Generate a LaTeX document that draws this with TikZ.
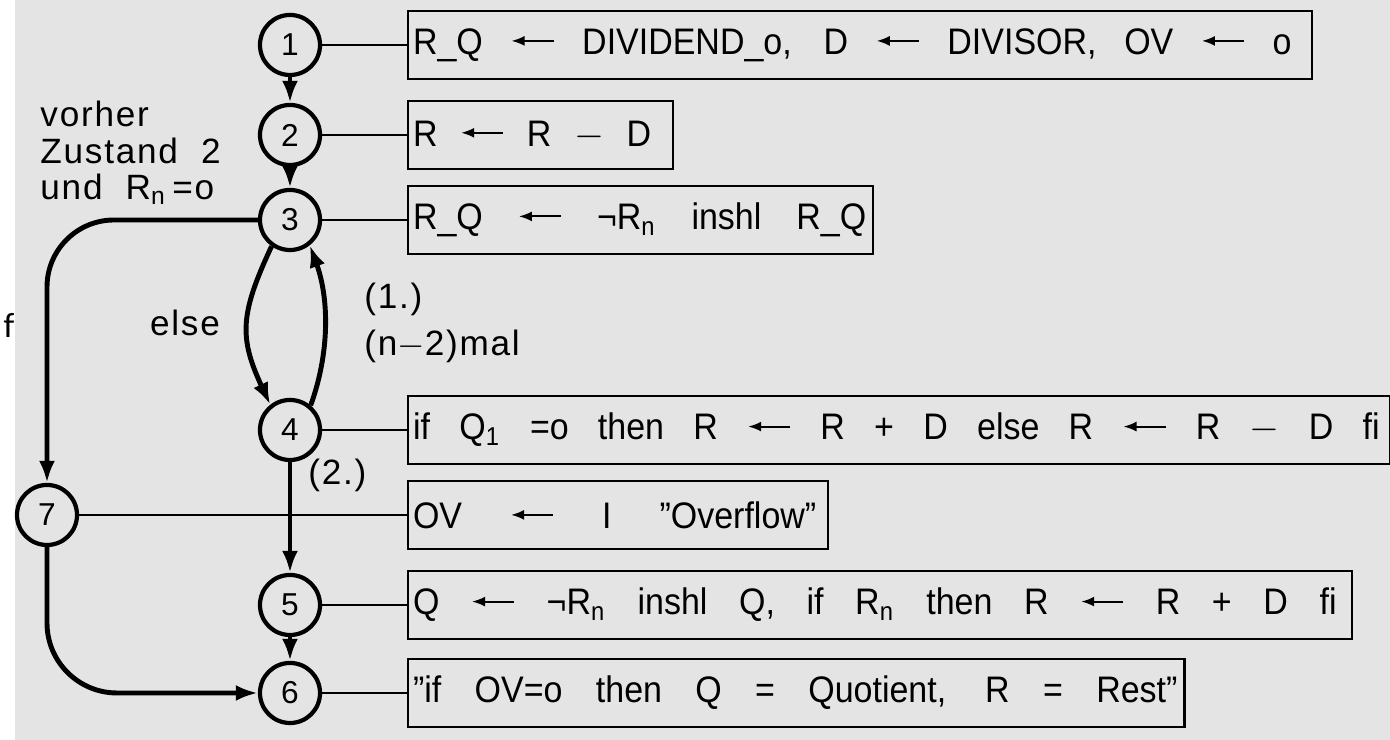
\documentclass[tikz,border=0pt]{standalone}
\usepackage{fontspec}
\setmainfont{Liberation Sans}[LetterSpace=5]
\newfontfamily\boxfont{Liberation Sans}[FakeStretch=0.92]
\newfontfamily\strayfont{Carlito}
\usetikzlibrary{arrows.meta}
\definecolor{paper}{HTML}{E4E4E4}
\newcommand{\spreadtext}[2]{\hbox to #1{\spaceskip=0.3em plus 1fill\relax #2}}
\newcommand{\getsarrow}{\tikz[baseline=-0.36em]\draw[-{Latex[length=1.3mm,width=1mm]}, line width=0.55pt] (0.42cm,0cm) -- (0cm,0cm);}
\tikzset{
  state/.style={circle, draw, line width=1.2pt, minimum size=0.6cm, inner sep=0pt, font=\fontsize{9}{10}\selectfont},
  action/.style={draw, line width=0.6pt, anchor=west, inner xsep=0.05cm, minimum height=0.68cm, align=left, font=\boxfont\fontsize{10.5}{12}\selectfont},
  flow/.style={->, line width=1.4pt},
  link/.style={line width=0.5pt},
}

\begin{document}
\begin{tikzpicture}[x=0.01cm, y=0.01cm, >={Latex[length=0.22cm,width=0.16cm]}, font=\fontsize{10}{10.4}\selectfont]
    \useasboundingbox (0,0) rectangle (1390,740);
    \fill[paper] (15,0) rectangle (1390,740);

    % states
    \node[state] (c1) at (290,695) {1};
    \node[state] (c2) at (290,605) {2};
    \node[state] (c3) at (290,520) {3};
    \node[state] (c4) at (290,310) {4};
    \node[state] (c5) at (290,135) {5};
    \node[state] (c6) at (290,47) {6};
    \node[state] (c7) at (47,225) {7};

    % actions
    \node[action, text width=8.93cm] (b1) at (407,695) {\spreadtext{8.78cm}{R\_Q \getsarrow{} DIVIDEND\_o, D \getsarrow{} DIVISOR, OV \getsarrow{} o}};
    \node[action, text width=2.55cm] (b2) at (407,605) {\spreadtext{2.38cm}{R \getsarrow{} R $-$ D}};
    \node[action, text width=4.55cm] (b3) at (407,520) {\spreadtext{4.53cm}{R\_Q \getsarrow{} ¬R\textsubscript{n} inshl R\_Q}};
    \node[action, text width=9.71cm] (b4) at (407,310) {\spreadtext{9.66cm}{if Q\textsubscript{1} =o then R \getsarrow{} R + D else R \getsarrow{} R $-$ D fi}};
    \node[action, text width=4.10cm] (b5) at (407,225) {\spreadtext{4.03cm}{OV \getsarrow{} I ”Overflow”}};
    \node[action, text width=9.33cm] (b6) at (407,135) {\spreadtext{9.23cm}{Q \getsarrow{} ¬R\textsubscript{n} inshl Q, if R\textsubscript{n} then R \getsarrow{} R + D fi}};
    \node[action, text width=7.66cm] (b7) at (407,47) {\spreadtext{7.64cm}{”if OV=o then Q = Quotient, R = Rest”}};

    % transitions
    \draw[flow] (c1) -- (c2);
    \draw[flow] (c2) -- (c3);
    \draw[flow] (c4) -- (c5);
    \draw[flow] (c5) -- (c6);
    \draw[flow, rounded corners=0.67cm] (c3.west) -| (c7.north);
    \draw[flow, rounded corners=0.7cm] (c7.south) |- (c6.west);
    \draw[flow] (c3.235) to[out=245, in=115, looseness=1.2] (c4.128);
    \draw[flow] (c4.50) to[out=70, in=290, looseness=0.9] (c3.308);

    \foreach \s/\b in {c1/b1, c2/b2, c3/b3, c4/b4, c7/b5, c5/b6, c6/b7}
        \draw[link] (\s) -- (\b);

    % labels
    \node[align=left, anchor=west] (cond) at (28,587) {vorher\\Zustand\ \ 2\\und\ \ R\textsubscript{n}\,=o};
    \node (else) at (185,417) {else};
    \node[align=left, anchor=west] (loop) at (352,417) {(1.)\\[3pt](n$-$2)mal};
    \node[anchor=west] (second) at (296,265) {(2.)};
    \node[font=\strayfont\fontsize{10}{12}\selectfont] (stray) at (9,415) {f};
\end{tikzpicture}
\end{document}
